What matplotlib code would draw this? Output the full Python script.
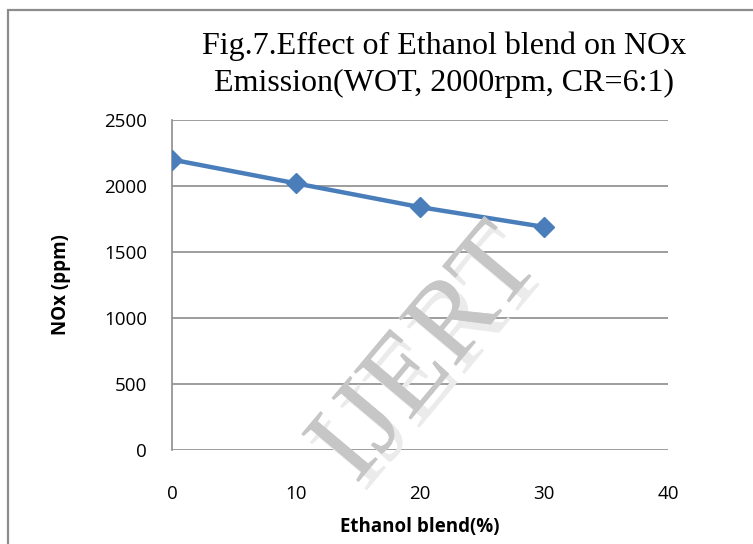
import matplotlib.pyplot as plt
from matplotlib.patches import Rectangle
import matplotlib.patheffects as pe

# Ethanol blend vs NOx emission
blend_pct = [0, 10, 20, 30]
nox_ppm = [2200, 2020, 1840, 1690]

x_ticks = [0, 10, 20, 30, 40]
y_ticks = [0, 500, 1000, 1500, 2000, 2500]

fig = plt.figure(figsize=(7.53, 5.44), dpi=100)

# chart frame (runs off the right/bottom edges)
fig.patches.append(Rectangle((8 / 753, -0.1), 1.2, 1 - 10 / 544 + 0.1,
                             transform=fig.transFigure, fill=False,
                             edgecolor="#8c8c8c", linewidth=1.6))

ax = fig.add_axes([172 / 753, 1 - 450 / 544, 496 / 753, 330 / 544])

ax.plot(blend_pct, nox_ppm, color="#4a7ebb", linewidth=3.2,
        marker="D", markersize=10, zorder=3)

ax.set_xlim(0, 40)
ax.set_ylim(0, 2500)
ax.set_xticks(x_ticks)
ax.set_yticks(y_ticks)
ax.tick_params(length=0, labelsize=13.5, colors="black")
ax.tick_params(axis="x", pad=25)
ax.tick_params(axis="y", pad=18)
for lbl in ax.get_xticklabels() + ax.get_yticklabels():
    lbl.set_family("Open Sans")

ax.grid(True, axis="y", color="#8c8c8c", linewidth=1.2)
ax.set_axisbelow(True)
for side in ["top", "right", "bottom"]:
    ax.spines[side].set_visible(False)
ax.spines["left"].set_color("#8c8c8c")
ax.spines["left"].set_linewidth(1.2)

ax.set_xlabel("Ethanol blend(%)", fontsize=13.5, fontweight="bold",
              family="Open Sans", labelpad=10)
ax.set_ylabel("NOx (ppm)", fontsize=13.5, fontweight="bold",
              family="Open Sans", labelpad=24)

fig.text(444 / 753, 1 - 65 / 544,
         "Fig.7.Effect of Ethanol blend on NOx\nEmission(WOT, 2000rpm, CR=6:1)",
         ha="center", va="center", fontsize=23, family="Liberation Serif",
         linespacing=1.38)

# watermark
fig.text(428 / 753, 1 - 356 / 544, "IJERT", ha="center", va="center",
         rotation=50, fontsize=82, family="Liberation Serif",
         color="#c6c6c6", alpha=0.9, zorder=5,
         path_effects=[pe.withSimplePatchShadow(offset=(6, -6),
                                                shadow_rgbFace="#ebebeb",
                                                alpha=1.0),
                       pe.Normal()])

fig.savefig("out.png", dpi=100)
